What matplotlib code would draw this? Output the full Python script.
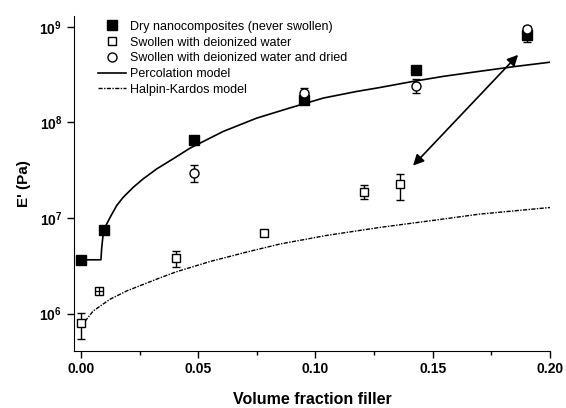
import matplotlib
matplotlib.use("Agg")
import matplotlib.pyplot as plt
from matplotlib.lines import Line2D
import numpy as np

plt.rcParams['font.family'] = ['Liberation Sans', 'DejaVu Sans']
plt.rcParams['mathtext.fontset'] = 'custom'
plt.rcParams['mathtext.rm'] = 'Liberation Sans:bold'
plt.rcParams['mathtext.bf'] = 'Liberation Sans:bold'

# dry nanocomposites (never swollen)
dry_x = [0.0, 0.01, 0.048, 0.095, 0.143, 0.19]
dry_E = [3.66e6, 7.5e6, 6.6e7, 1.73e8, 3.57e8, 8.3e8]
dry_lo = [3.66e6, 7.5e6, 6.6e7, 1.6e8, 3.57e8, 6.9e8]
dry_hi = [3.66e6, 7.5e6, 6.6e7, 1.85e8, 3.57e8, 9.0e8]

# swollen with deionized water
sw_x = [0.0, 0.0077, 0.0405, 0.078, 0.1207, 0.136]
sw_E = [8.05e5, 1.73e6, 3.81e6, 6.98e6, 1.89e7, 2.26e7]
sw_lo = [5.47e5, 1.66e6, 3.09e6, 6.98e6, 1.58e7, 1.55e7]
sw_hi = [1.02e6, 1.80e6, 4.47e6, 6.98e6, 2.22e7, 2.9e7]

# swollen and dried
dr_x = [0.048, 0.095, 0.143, 0.19]
dr_E = [2.99e7, 2.03e8, 2.43e8, 9.6e8]
dr_lo = [2.4e7, 1.78e8, 2.03e8, 8.5e8]
dr_hi = [3.6e7, 2.29e8, 2.85e8, 1.02e9]

# model curves
perc_x = [0.0, 0.0085, 0.0088, 0.0093, 0.0102, 0.0124, 0.0152, 0.018, 0.0223,
          0.0265, 0.0323, 0.0393, 0.0464, 0.0606, 0.0749, 0.0891, 0.1033,
          0.1175, 0.1274, 0.1416, 0.155, 0.170, 0.185, 0.2]
perc_E = [3.66e6, 3.66e6, 4.79e6, 6.31e6, 7.98e6, 1.016e7, 1.35e7, 1.65e7, 2.10e7,
          2.57e7, 3.27e7, 4.17e7, 5.37e7, 8.05e7, 1.11e8, 1.42e8, 1.80e8,
          2.11e8, 2.32e8, 2.69e8, 3.05e8, 3.43e8, 3.85e8, 4.27e8]

hk_x = [0.0017, 0.0052, 0.0124, 0.0195, 0.0337, 0.0408, 0.055, 0.07, 0.0848,
        0.105, 0.1274, 0.150, 0.170, 0.2]
hk_E = [8.32e5, 1.067e6, 1.416e6, 1.73e6, 2.37e6, 2.75e6, 3.51e6, 4.37e6, 5.35e6,
        6.6e6, 7.98e6, 9.44e6, 1.10e7, 1.29e7]

arrow_a = (0.1416, 3.54e7)
arrow_b = (0.1864, 5.1e8)

fig = plt.figure(figsize=(5.66, 4.08), dpi=100)
ax = fig.add_axes([0.1307, 0.1405, 0.841, 0.8203])

ax.plot(perc_x, perc_E, color='black', lw=1.2, zorder=2)
ax.plot(hk_x, hk_E, color='black', lw=1.0, linestyle=(0, (3, 1, 1, 1)), zorder=2)

def yerr(E, lo, hi):
    return [np.array(E) - np.array(lo), np.array(hi) - np.array(E)]

ax.errorbar(dry_x, dry_E, yerr=yerr(dry_E, dry_lo, dry_hi), fmt='s', ms=7.5,
            mfc='black', mec='black', ecolor='black', elinewidth=1, capsize=3, zorder=3)
ax.errorbar(sw_x, sw_E, yerr=yerr(sw_E, sw_lo, sw_hi), fmt='s', ms=6,
            mfc='white', mec='black', mew=1, ecolor='black', elinewidth=1, capsize=3,
            zorder=3)
# small error bar hidden inside the second swollen square
ax.plot(sw_x[1], sw_E[1], marker='+', ms=6, mew=0.9, color='black', zorder=4)
ax.errorbar(dr_x, dr_E, yerr=yerr(dr_E, dr_lo, dr_hi), fmt='o', ms=6.5,
            mfc='white', mec='black', mew=1, ecolor='black', elinewidth=1, capsize=3,
            zorder=4)

ax.annotate('', xy=arrow_a, xytext=arrow_b,
            arrowprops=dict(arrowstyle='<|-|>', color='black', lw=1.2,
                            mutation_scale=16, shrinkA=0, shrinkB=0))

ax.set_yscale('log')
ax.set_xlim(-0.003, 0.2)
ax.set_ylim(4.1e5, 1.3e9)
ax.set_xticks([0.0, 0.05, 0.10, 0.15, 0.20])
ax.set_xticklabels(['0.00', '0.05', '0.10', '0.15', '0.20'], fontweight='bold')
ax.set_xticks([0.025, 0.075, 0.125, 0.175], minor=True)
ax.set_yticks([1e6, 1e7, 1e8, 1e9])
ax.set_yticklabels([r'$\mathbf{10^{6}}$', r'$\mathbf{10^{7}}$',
                    r'$\mathbf{10^{8}}$', r'$\mathbf{10^{9}}$'])
ax.yaxis.set_minor_locator(matplotlib.ticker.NullLocator())
ax.tick_params(axis='both', which='major', direction='out', length=5, width=1,
               labelsize=10)
ax.tick_params(axis='x', which='minor', direction='out', length=3, width=1)
ax.spines['top'].set_visible(False)
ax.spines['right'].set_visible(False)

ax.set_xlabel('Volume fraction filler', fontweight='bold', fontsize=11.5, labelpad=11)
ax.set_ylabel("E' (Pa)", fontweight='bold', fontsize=11, labelpad=6)

handles = [
    Line2D([], [], ls='none', marker='s', ms=7.5, mfc='black', mec='black'),
    Line2D([], [], ls='none', marker='s', ms=6, mfc='white', mec='black'),
    Line2D([], [], ls='none', marker='o', ms=6.5, mfc='white', mec='black'),
    Line2D([], [], color='black', lw=1.2),
    Line2D([], [], color='black', lw=1.0, ls=(0, (3, 1, 1, 1))),
]
labels = ['Dry nanocomposites (never swollen)', 'Swollen with deionized water',
          'Swollen with deionized water and dried', 'Percolation model',
          'Halpin-Kardos model']
ax.legend(handles, labels, loc='upper left', bbox_to_anchor=(0.034, 1.008),
          frameon=False, fontsize=9, handlelength=2.3, handletextpad=0.3,
          labelspacing=0.3, borderaxespad=0.2)

fig.savefig('out.png', dpi=100)
